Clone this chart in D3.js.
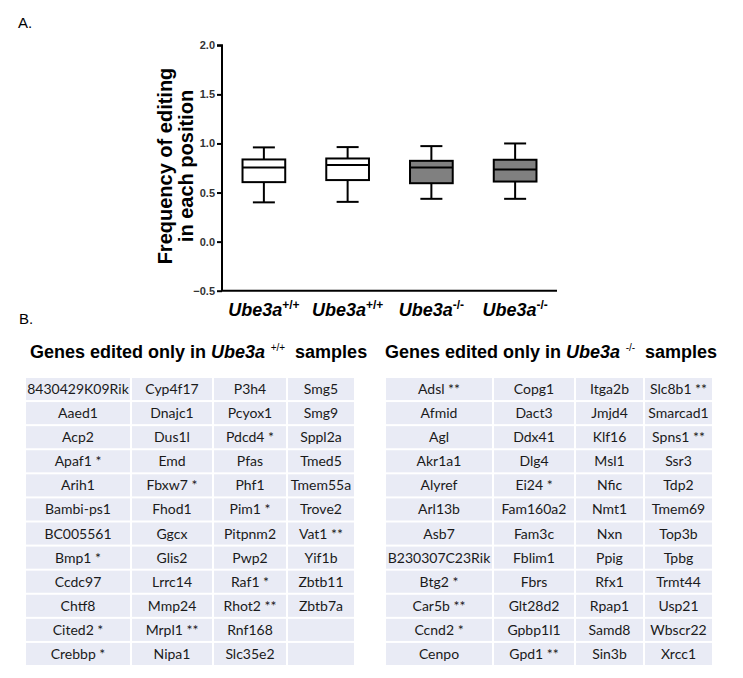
<!DOCTYPE html>
<html>
  <head>
    <meta charset="utf-8">
    <script src="https://d3js.org/d3.v7.min.js"></script>
    <style>
      body { margin: 0; background: #fff; }
      svg { display: block; }
      .box { stroke: #000; stroke-width: 2; }
      .whisker { stroke: #000; stroke-width: 2; }
      .tick text { font-family: "Liberation Sans Narrow", "Liberation Sans", Arial, sans-serif; font-weight: bold; font-size: 11px; fill: #333; }
      .cell { fill: #e9ebf5; }
      .celltext { font-family: Lato, "Open Sans", sans-serif; font-size: 14px; fill: #1a1a1a; }
    </style>
  </head>
  <body>
    <svg width="743" height="678"></svg>
    <script>
      // box plot data
      var groups = ["WT1", "WT2", "KO1", "KO2"];
      var groupSup = ["+/+", "+/+", "-/-", "-/-"];
      var mins = [0.40, 0.405, 0.436, 0.436];
      var q1s = [0.606, 0.627, 0.595, 0.612];
      var medians = [0.755, 0.78, 0.755, 0.735];
      var q3s = [0.837, 0.847, 0.823, 0.834];
      var maxs = [0.96, 0.963, 0.973, 1.0];
      var fills = ["#fff", "#fff", "#808080", "#808080"];
      var yTicks = [-0.5, 0.0, 0.5, 1.0, 1.5, 2.0];

      // tables
      var wtCol1 = ["8430429K09Rik", "Aaed1", "Acp2", "Apaf1 *", "Arih1", "Bambi-ps1", "BC005561", "Bmp1 *", "Ccdc97", "Chtf8", "Cited2 *", "Crebbp *"];
      var wtCol2 = ["Cyp4f17", "Dnajc1", "Dus1l", "Emd", "Fbxw7 *", "Fhod1", "Ggcx", "Glis2", "Lrrc14", "Mmp24", "Mrpl1 **", "Nipa1"];
      var wtCol3 = ["P3h4", "Pcyox1", "Pdcd4 *", "Pfas", "Phf1", "Pim1 *", "Pitpnm2", "Pwp2", "Raf1 *", "Rhot2 **", "Rnf168", "Slc35e2"];
      var wtCol4 = ["Smg5", "Smg9", "Sppl2a", "Tmed5", "Tmem55a", "Trove2", "Vat1 **", "Yif1b", "Zbtb11", "Zbtb7a", "", ""];
      var koCol1 = ["Adsl **", "Afmid", "Agl", "Akr1a1", "Alyref", "Arl13b", "Asb7", "B230307C23Rik", "Btg2 *", "Car5b **", "Ccnd2 *", "Cenpo"];
      var koCol2 = ["Copg1", "Dact3", "Ddx41", "Dlg4", "Ei24 *", "Fam160a2", "Fam3c", "Fblim1", "Fbrs", "Glt28d2", "Gpbp1l1", "Gpd1 **"];
      var koCol3 = ["Itga2b", "Jmjd4", "Klf16", "Msl1", "Nfic", "Nmt1", "Nxn", "Ppig", "Rfx1", "Rpap1", "Samd8", "Sin3b"];
      var koCol4 = ["Slc8b1 **", "Smarcad1", "Spns1 **", "Ssr3", "Tdp2", "Tmem69", "Top3b", "Tpbg", "Trmt44", "Usp21", "Wbscr22", "Xrcc1"];

      var svg = d3.select("svg");

      // panel labels
      svg.append("text").attr("x", 18).attr("y", 28)
        .style("font-family", "Liberation Sans, Arial, sans-serif").style("font-size", "15px").text("A.");
      svg.append("text").attr("x", 19).attr("y", 324)
        .style("font-family", "Liberation Sans, Arial, sans-serif").style("font-size", "15px").text("B.");

      // ---- panel A ----
      var x = d3.scaleBand().domain(groups).range([222, 557]).paddingInner(0.49).paddingOuter(0.245);
      var y = d3.scaleLinear().domain([-0.5, 2.0]).range([290.7, 45.3]);

      var yAxis = svg.append("g").attr("transform", "translate(222,0)")
        .call(d3.axisLeft(y).tickValues(yTicks).tickFormat(d3.format(".1f")).tickSize(5).tickPadding(2));
      yAxis.selectAll("path, line").attr("stroke", "#000").attr("stroke-width", 2);
      yAxis.select(".domain").attr("d", "M-5," + y(2.0) + "H0V" + y(-0.5));

      svg.append("line").attr("x1", 221).attr("x2", 557).attr("y1", y(-0.5)).attr("y2", y(-0.5))
        .attr("stroke", "#000").attr("stroke-width", 2);

      var bw = x.bandwidth();
      groups.forEach(function(g, i) {
        var cx = x(g) + bw / 2;
        var sw = i === 1 ? 1.5 : 2;
        svg.append("line").attr("class", "whisker").attr("x1", cx).attr("x2", cx).attr("y1", y(maxs[i])).attr("y2", y(q3s[i])).attr("stroke-width", sw);
        svg.append("line").attr("class", "whisker").attr("x1", cx).attr("x2", cx).attr("y1", y(q1s[i])).attr("y2", y(mins[i])).attr("stroke-width", sw);
        svg.append("line").attr("class", "whisker").attr("x1", cx - 11).attr("x2", cx + 11).attr("y1", y(maxs[i])).attr("y2", y(maxs[i])).attr("stroke-width", sw);
        svg.append("line").attr("class", "whisker").attr("x1", cx - 11).attr("x2", cx + 11).attr("y1", y(mins[i])).attr("y2", y(mins[i])).attr("stroke-width", sw);
        svg.append("rect").attr("class", "box").attr("x", x(g)).attr("width", bw)
          .attr("y", y(q3s[i])).attr("height", y(q1s[i]) - y(q3s[i]))
          .attr("fill", fills[i]).attr("stroke-width", sw);
        svg.append("line").attr("class", "whisker").attr("x1", x(g)).attr("x2", x(g) + bw)
          .attr("y1", y(medians[i])).attr("y2", y(medians[i])).attr("stroke-width", i === 1 ? 1.2 : 2);

        var t = svg.append("text").attr("x", cx).attr("y", 316).attr("text-anchor", "middle")
          .style("font-family", "Liberation Sans, Arial, sans-serif").style("font-weight", "bold")
          .style("font-style", "italic").style("font-size", "18px");
        t.append("tspan").text("Ube3a");
        t.append("tspan").attr("dy", -7).style("font-size", "12px").style("font-style", "normal").text(groupSup[i]);
      });

      // y axis title
      var yl = svg.append("text").attr("transform", "rotate(-90)")
        .attr("text-anchor", "middle")
        .style("font-family", "Liberation Sans, Arial, sans-serif").style("font-weight", "bold").style("font-size", "20px");
      yl.append("tspan").attr("x", -166).attr("y", 172).text("Frequency of editing");
      yl.append("tspan").attr("x", -166).attr("y", 193).text("in each position");

      // ---- panel B ----
      function header(x0, sup, gap) {
        var t = svg.append("text").attr("x", x0).attr("y", 358)
          .style("font-family", "Liberation Sans, Arial, sans-serif").style("font-weight", "bold").style("font-size", "18px");
        t.append("tspan").text("Genes edited only in ");
        t.append("tspan").style("font-style", "italic").text("Ube3a");
        t.append("tspan").attr("dy", -7).attr("xml:space", "preserve").style("font-size", "10px").style("font-weight", "normal").text("  " + sup);
        t.append("tspan").attr("dy", 7).attr("xml:space", "preserve").text(gap + "samples");
      }
      header(30, "+/+", "  ");
      header(385, "-/-", "  ");

      function table(cols, edges) {
        var rows = d3.range(cols[0].length);
        var ry = d3.scaleBand().domain(rows).range([377, 666]);
        cols.forEach(function(col, c) {
          var x0 = edges[c], x1 = edges[c + 1];
          var g = svg.append("g");
          g.selectAll("rect").data(col).join("rect").attr("class", "cell")
            .attr("x", x0 + 1).attr("width", x1 - x0 - 2)
            .attr("y", function(d, r) { return ry(r) + 1; }).attr("height", ry.bandwidth() - 2);
          g.selectAll("text").data(col).join("text").attr("class", "celltext")
            .attr("x", (x0 + x1) / 2).attr("text-anchor", "middle")
            .attr("y", function(d, r) { return ry(r) + ry.bandwidth() / 2 + 5; })
            .text(function(d) { return d; });
        });
      }
      table([wtCol1, wtCol2, wtCol3, wtCol4], [25, 131, 213, 287, 355]);
      table([koCol1, koCol2, koCol3, koCol4], [385, 493, 575, 644, 713]);
    </script>
  </body>
</html>
